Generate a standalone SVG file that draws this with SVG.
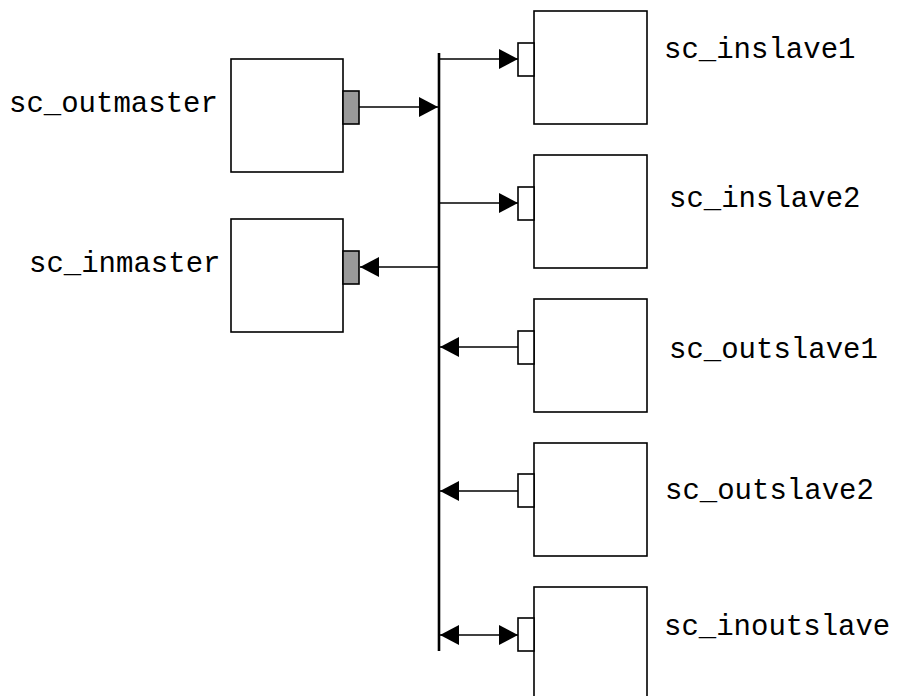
<svg xmlns="http://www.w3.org/2000/svg" width="897" height="696" viewBox="0 0 897 696">
<style>
.box{fill:#fff;stroke:#000;stroke-width:1.6}
.mport{fill:#999;stroke:#000;stroke-width:1.6}
.sport{fill:#fff;stroke:#000;stroke-width:1.6}
.lbl{font-family:"Liberation Mono","Courier New",monospace;font-size:29px;fill:#000}
.wire{stroke:#000;stroke-width:1.5;fill:none}
.bus{stroke:#000;stroke-width:2.6;fill:none}
</style>
<defs>
<marker id="ah" markerUnits="userSpaceOnUse" markerWidth="20" markerHeight="20" refX="19" refY="10" orient="auto-start-reverse" viewBox="0 0 20 20">
<path d="M0,0 L19,10 L0,20 Z" fill="#000"/>
</marker>
</defs>
<rect width="897" height="696" fill="#fff"/>
<g id="sc_outmaster">
<rect class="box" x="231" y="59" width="112" height="113"/>
<rect class="mport" x="343" y="91" width="16" height="33"/>
<text class="lbl" x="9" y="112">sc_outmaster</text>
</g>
<g id="sc_inmaster">
<rect class="box" x="231" y="219" width="112" height="113"/>
<rect class="mport" x="343" y="251" width="16" height="33"/>
<text class="lbl" x="29" y="272">sc_inmaster</text>
</g>
<g id="sc_inslave1">
<rect class="box" x="534" y="11" width="113" height="113"/>
<rect class="sport" x="518" y="43" width="16" height="33"/>
<text class="lbl" x="664" y="58">sc_inslave1</text>
</g>
<g id="sc_inslave2">
<rect class="box" x="534" y="155" width="113" height="113"/>
<rect class="sport" x="518" y="187" width="16" height="33"/>
<text class="lbl" x="669" y="207">sc_inslave2</text>
</g>
<g id="sc_outslave1">
<rect class="box" x="534" y="299" width="113" height="113"/>
<rect class="sport" x="518" y="331" width="16" height="33"/>
<text class="lbl" x="669" y="358">sc_outslave1</text>
</g>
<g id="sc_outslave2">
<rect class="box" x="534" y="443" width="113" height="113"/>
<rect class="sport" x="518" y="474" width="16" height="33"/>
<text class="lbl" x="665" y="499">sc_outslave2</text>
</g>
<g id="sc_inoutslave">
<rect class="box" x="534" y="587" width="113" height="120"/>
<rect class="sport" x="518" y="618" width="16" height="33"/>
<text class="lbl" x="664" y="635">sc_inoutslave</text>
</g>
<g id="connectors">
<line class="bus" x1="439" y1="53" x2="439" y2="651"/>
<line class="wire" x1="359" y1="107" x2="438" y2="107" marker-end="url(#ah)"/>
<line class="wire" x1="439" y1="267" x2="360" y2="267" marker-end="url(#ah)"/>
<line class="wire" x1="440" y1="59" x2="518" y2="59" marker-end="url(#ah)"/>
<line class="wire" x1="440" y1="203" x2="518" y2="203" marker-end="url(#ah)"/>
<line class="wire" x1="518" y1="347" x2="440" y2="347" marker-end="url(#ah)"/>
<line class="wire" x1="518" y1="491" x2="440" y2="491" marker-end="url(#ah)"/>
<line class="wire" x1="440" y1="635" x2="518" y2="635" marker-start="url(#ah)" marker-end="url(#ah)"/>
</g>
</svg>
